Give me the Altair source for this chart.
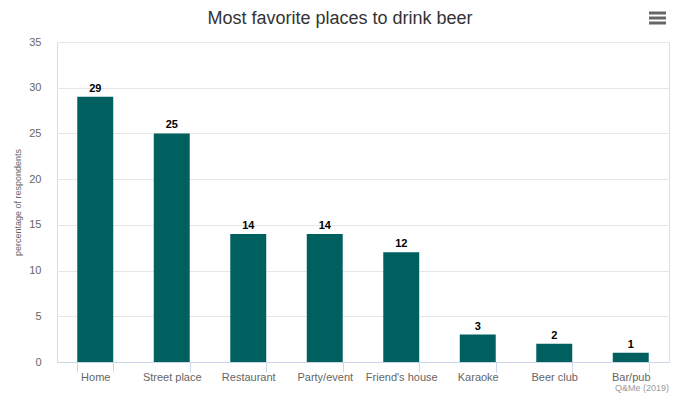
import altair as alt
import pandas as pd

categories = ["Home", "Street place", "Restaurant", "Party/event", "Friend's house", "Karaoke", "Beer club", "Bar/pub"]
values = [29, 25, 14, 14, 12, 3, 2, 1]
y_ticks = [0, 5, 10, 15, 20, 25, 30, 35]
title_text = "Most favorite places to drink beer"
credit_text = "Q&Me (2019)"

df = pd.DataFrame({"place": categories, "pct": values})

FONT = "Liberation Sans"
W, H = 612, 320

x_enc = alt.X("place:N", sort=categories, title=None,
              scale=alt.Scale(paddingInner=0.53, paddingOuter=0.265),
              axis=alt.Axis(labelAngle=0, labelFont=FONT, labelFontSize=11, labelColor="#666666",
                            domainColor="#ccd6eb", tickColor="#ccd6eb", tickSize=10, tickBand="extent",
                            labelPadding=-1, grid=False))
y_enc = alt.Y("pct:Q", title="percentage of respondents",
              scale=alt.Scale(domain=[0, 35], nice=False),
              axis=alt.Axis(values=y_ticks, labelFont=FONT, labelFontSize=11, labelColor="#666666",
                            domain=False, ticks=False, labelPadding=16, gridColor="#e6e6e6",
                            titleFont=FONT, titleFontSize=9, titleColor="#666666", titleFontWeight="normal",
                            titlePadding=6))

bars = alt.Chart(df).mark_bar(color="#006060").encode(x=x_enc, y=y_enc)

labels = alt.Chart(df).mark_text(dy=-8, font=FONT, fontSize=11, fontWeight="bold", color="#000000").encode(
    x=alt.X("place:N", sort=categories), y="pct:Q", text="pct:Q")

menus = []
for yy in [-29, -24, -19]:
    menus.append(alt.Chart(pd.DataFrame({"a": [0]})).mark_rule(color="#666666", strokeWidth=3).encode(
        x=alt.value(592), x2=alt.value(609), y=alt.value(yy)))

credit = alt.Chart(pd.DataFrame({"t": [credit_text]})).mark_text(
    align="right", baseline="middle", font=FONT, fontSize=9, color="#999999").encode(
    x=alt.value(W), y=alt.value(346), text="t:N")

title = alt.Chart(pd.DataFrame({"t": [title_text]})).mark_text(
    align="center", baseline="alphabetic", font=FONT, fontSize=18, color="#333333").encode(
    x=alt.value(283), y=alt.value(-18), text="t:N")

chart = alt.layer(bars, labels, credit, title, *menus).properties(
    width=W, height=H,
    autosize=alt.AutoSizeParams(type="none"),
    padding={"left": 49, "top": 34, "right": 9, "bottom": 40},
).configure_view(stroke=None).configure(background="white")

chart.save("out.html", embed_options={"renderer": "svg", "actions": False})
